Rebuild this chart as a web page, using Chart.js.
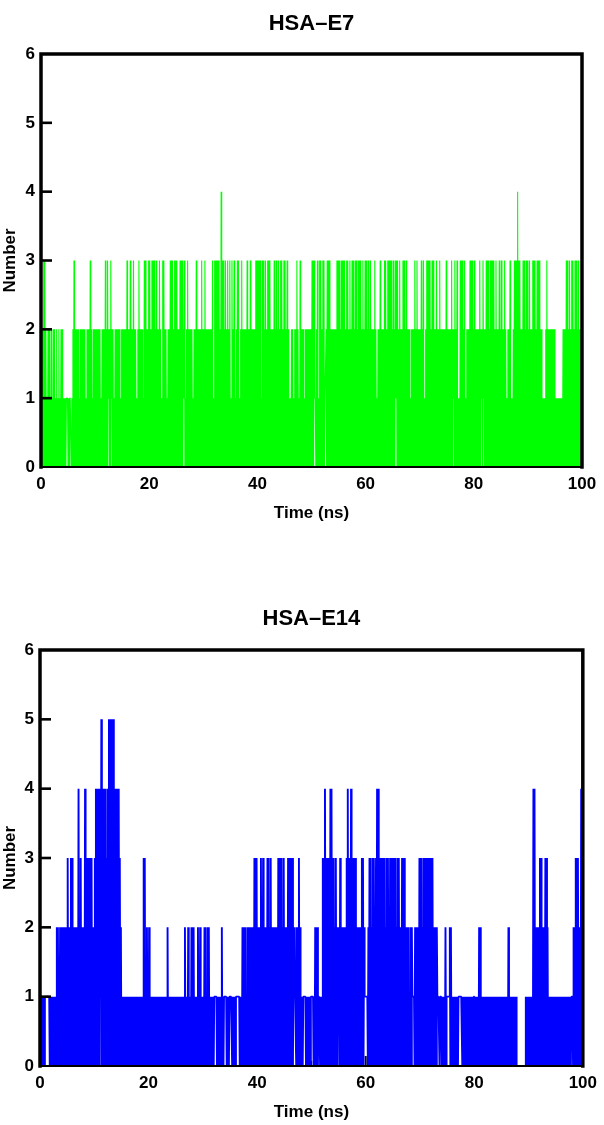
<!DOCTYPE html>
<html>
<head>
<meta charset="utf-8">
<script src="https://cdn.jsdelivr.net/npm/chart.js@4.4.1/dist/chart.umd.min.js"></script>
<style>
  html, body { margin: 0; padding: 0; background: #ffffff; }
  body { width: 604px; height: 1125px; position: relative; overflow: hidden; }
  .panel { position: absolute; left: 0; width: 604px; }
  #p1 { top: 0; height: 560px; }
  #p2 { top: 560px; height: 565px; }
  canvas { display: block; }
</style>
</head>
<body>
<div class="panel" id="p1"><canvas id="c1" width="604" height="560"></canvas></div>
<div class="panel" id="p2"><canvas id="c2" width="604" height="565"></canvas></div>
<script>
// ---------------- data ----------------
// Hydrogen-bond count, lowest and highest value in each 0.2 ns window (0–100 ns).
const binWidth = 0.2;
const xTicks = [0, 20, 40, 60, 80, 100];
const yTicks = [0, 1, 2, 3, 4, 5, 6];
const chartTitles = ['HSA–E7', 'HSA–E14'];
const xAxisLabel = 'Time (ns)';
const yAxisLabel = 'Number';

const e7Max = [
  "2233212212 1221212122 1111111112 3222212222 2122232122",
  "2222212223 2322322122 2221222223 2232232212 3222133223",
  "3233323223 2133221223 3323332233 3231232222 1223222232",
  "2322222231 3333324332 3232313231 2331232222 3223222233",
  "3331332323 3322232323 2332332321 1221223213 2221222222",
  "3331231332 3312333222 2223332333 3233232332 3323332323",
  "3232322232 1223222332 3333232333 2322332322 2122232322",
  "2323123333 2332232232 2222322223 2232311333 2312223332",
  "3222232232 2333233332 3223232232 1223112333 4332233233",
  "2322333233 3221112322 2222211111 1122233232 3323323222"
];
const e7Min = [
  "0000000000 0000000000 0000100100 0000000000 0000000000",
  "0000000000 0010010000 0000000000 0000000000 0000000000",
  "0000000000 0000000000 0000000000 0010000000 0000000000",
  "0000000000 0000000000 0000000000 0000000000 0000000000",
  "0000000000 0000000000 0000000000 0000000000 0000000000",
  "0001000000 0001000000 0000000000 0000000000 0000000000",
  "0000000000 0000000000 0000000010 0000000000 0000000000",
  "0000000000 0000000000 0000000000 0100000000 0000000000",
  "0000000101 0000000000 0000000000 0000000000 0000000000",
  "0000000000 0000000000 0000000000 0000000000 0000000000"
];
const e14Max = [
  "1111111111 1111122122 2122232233 2222242322 2433333322",
  "3444445444 4345555544 4443211111 1111111111 1111133121",
  "2111111111 1111111211 1111111111 1112112112 1211121211",
  "1221221111 1111111211 1111111111 1111112222 1222222323",
  "2223232223 3232222223 2332322232 3232212232 1111111111",
  "1112221111 3343333443 3232223222 2234334332 3222223321",
  "1123323323 4433233323 3233323323 3223332222 1221122223",
  "3323333332 3322221111 1112111221 1111111111 1111111111",
  "1111221111 1111111111 1111111111 1211111110 0000000111",
  "1111442222 3322233211 1111111111 1111111111 1223332244"
];
const e14Min = [
  "0000011110 0000000000 0000000000 0000000000 0000000000",
  "0000001000 0000000000 0000000000 0000000000 0000000000",
  "0000000000 0000000000 0000000000 0000000000 0000000000",
  "0000000000 0110000000 1100011000 0111000000 0000000000",
  "0000000000 0000000000 0000000000 0000110000 0001100000",
  "1100000100 0000000000 0000010000 0000000000 0000000001",
  "1100000000 0000000000 0000000000 0000000000 0001100000",
  "0000000000 0000001101 0000011100 0000001110 0000000000",
  "1000000000 0000000000 0000000000 0000000000 0000000000",
  "0000000000 0000000000 0000000000 0000000000 1000000000"
];

// ---------------- helpers ----------------
const FONT = "'Liberation Sans', Arial, Helvetica, sans-serif";

function digits(rows) {
  return rows.join('').replace(/\s+/g, '').split('').map(Number);
}

function toSeries(minRows, maxRows) {
  const lo = digits(minRows), hi = digits(maxRows);
  const pts = [];
  for (let i = 0; i < hi.length; i++) {
    const t = i * binWidth;
    pts.push({ x: t, y: lo[i] });
    pts.push({ x: t + binWidth / 2, y: hi[i] });
  }
  return pts;
}

const framePlugin = {
  id: 'xmgraceFrame',
  beforeDatasetsDraw(chart) {
    const { ctx, chartArea: a, scales } = chart;
    ctx.save();
    ctx.strokeStyle = '#000';
    ctx.lineCap = 'butt';
    // x ticks (inward), drawn behind the data
    ctx.lineWidth = 2;
    xTicks.forEach(v => {
      if (v === 0 || v === 100) return;
      const x = scales.x.getPixelForValue(v);
      ctx.beginPath(); ctx.moveTo(x, a.bottom); ctx.lineTo(x, a.bottom - 10); ctx.stroke();
    });
    ctx.lineWidth = 1.5;
    for (let k = 0; k < xTicks.length - 1; k++) {
      const v = (xTicks[k] + xTicks[k + 1]) / 2;
      const x = scales.x.getPixelForValue(v);
      ctx.beginPath(); ctx.moveTo(x, a.bottom); ctx.lineTo(x, a.bottom - 5); ctx.stroke();
    }
    ctx.restore();
  },
  afterDatasetsDraw(chart) {
    const { ctx, chartArea: a, scales } = chart;
    ctx.save();
    ctx.strokeStyle = '#000';
    // bottom axis (thinner)
    ctx.lineWidth = 2;
    ctx.beginPath(); ctx.moveTo(a.left, a.bottom); ctx.lineTo(a.right, a.bottom); ctx.stroke();
    // left, top, right (thick)
    ctx.lineWidth = 3.5;
    ctx.lineJoin = 'miter';
    ctx.lineCap = 'square';
    ctx.beginPath();
    ctx.moveTo(a.left, a.bottom);
    ctx.lineTo(a.left, a.top);
    ctx.lineTo(a.right, a.top);
    ctx.lineTo(a.right, a.bottom);
    ctx.stroke();
    // y ticks (inward)
    ctx.lineCap = 'butt';
    ctx.lineWidth = 2.6;
    yTicks.forEach(v => {
      if (v === 0 || v === 6) return;
      const y = scales.y.getPixelForValue(v);
      ctx.beginPath(); ctx.moveTo(a.left, y); ctx.lineTo(a.left + 11, y); ctx.stroke();
    });
    ctx.restore();
  }
};

function buildChart(id, minRows, maxRows, color, lineW, title, g) {
  const ctx = document.getElementById(id).getContext('2d');
  return new Chart(ctx, {
    type: 'line',
    data: {
      datasets: [{
        data: toSeries(minRows, maxRows),
        borderColor: color,
        borderWidth: lineW,
        borderJoinStyle: 'bevel',
        pointRadius: 0,
        fill: false,
        tension: 0
      }]
    },
    options: {
      responsive: false,
      animation: false,
      devicePixelRatio: 1,
      parsing: false,
      normalized: true,
      events: [],
      layout: { padding: { left: 0, top: 0, right: g.padRight, bottom: g.padBottom } },
      plugins: {
        legend: { display: false },
        tooltip: { enabled: false },
        title: {
          display: true, text: title, fullSize: false, color: '#000',
          font: { family: FONT, size: 22, weight: 'bold', lineHeight: 1.2 },
          padding: { top: g.titleTop, bottom: g.titleBottom }
        }
      },
      scales: {
        x: {
          type: 'linear', min: 0, max: 100,
          afterBuildTicks: s => { s.ticks = xTicks.map(v => ({ value: v })); },
          ticks: {
            color: '#000', padding: 7, maxRotation: 0, minRotation: 0, autoSkip: false,
            font: { family: FONT, size: 17, weight: 'bold', lineHeight: 1.2 }
          },
          grid: { display: false, drawTicks: false, tickLength: 0 },
          border: { display: false },
          title: {
            display: true, text: xAxisLabel, color: '#000',
            font: { family: FONT, size: 17, weight: 'bold', lineHeight: 1.2 },
            padding: { top: 0, bottom: g.xTitleBottom }
          },
          afterFit: s => { s.height = g.xHeight; }
        },
        y: {
          type: 'linear', min: 0, max: 6,
          afterBuildTicks: s => { s.ticks = yTicks.map(v => ({ value: v })); },
          ticks: {
            color: '#000', padding: 6,
            font: { family: FONT, size: 17, weight: 'bold', lineHeight: 1.2 }
          },
          grid: { display: false, drawTicks: false, tickLength: 0 },
          border: { display: false },
          title: {
            display: true, text: yAxisLabel, color: '#000',
            font: { family: FONT, size: 17, weight: 'bold', lineHeight: 1.2 },
            padding: { top: 0, bottom: 0 }
          },
          afterFit: s => { s.width = g.yWidth; }
        }
      }
    },
    plugins: [framePlugin]
  });
}

// top panel: plot area x 41..582, y 54..467 (canvas 560 tall)
buildChart('c1', e7Min, e7Max, '#00ff00', 1.1, chartTitles[0], {
  padRight: 22, padBottom: 33, xHeight: 60, yWidth: 41,
  titleTop: 11, titleBottom: 16.6, xTitleBottom: 3.8
});
// bottom panel: plot area x 40..589, y 650..1066 (canvas starts at 560)
buildChart('c2', e14Min, e14Max, '#0000ff', 1.9, chartTitles[1], {
  padRight: 15, padBottom: 0, xHeight: 59, yWidth: 40,
  titleTop: 45.8, titleBottom: 17.8, xTitleBottom: 2.8
});
</script>
</body>
</html>
